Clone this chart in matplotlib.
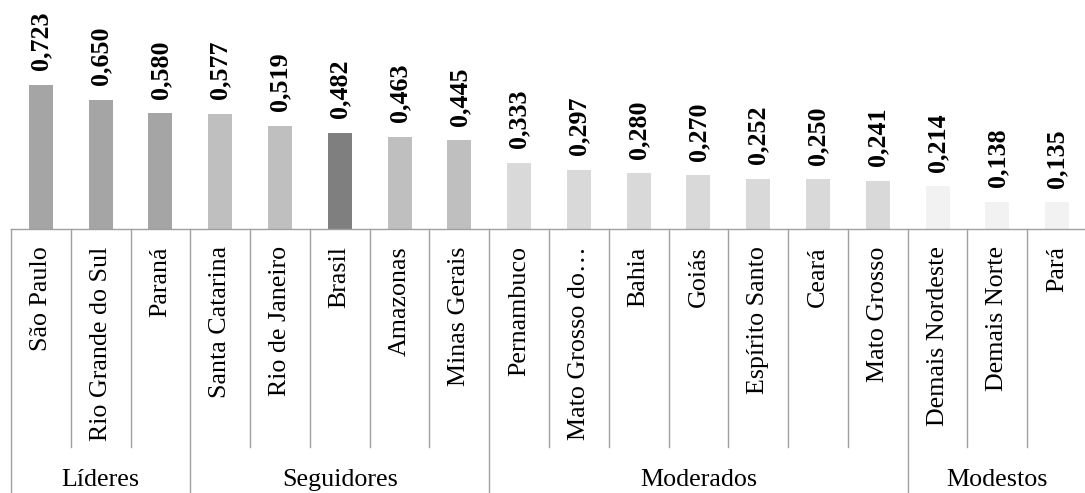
import matplotlib.pyplot as plt
import matplotlib.transforms as mtransforms

# dados
estados = ['São Paulo', 'Rio Grande do Sul', 'Paraná', 'Santa Catarina',
           'Rio de Janeiro', 'Brasil', 'Amazonas', 'Minas Gerais',
           'Pernambuco', 'Mato Grosso do…', 'Bahia', 'Goiás',
           'Espírito Santo', 'Ceará', 'Mato Grosso', 'Demais Nordeste',
           'Demais Norte', 'Pará']
valores = [0.723, 0.650, 0.580, 0.577, 0.519, 0.482, 0.463, 0.445,
           0.333, 0.297, 0.280, 0.270, 0.252, 0.250, 0.241, 0.214,
           0.138, 0.135]
grupos = ['Líderes', 'Seguidores', 'Moderados', 'Modestos']
tamanhos = [3, 5, 7, 3]

cores_grupo = {'Líderes': '#A5A5A5', 'Seguidores': '#BFBFBF',
               'Moderados': '#D9D9D9', 'Modestos': '#F2F2F2'}
cor_brasil = '#7F7F7F'
cor_linha = '#A0A0A0'

plt.rcParams['font.family'] = ['Liberation Serif', 'DejaVu Serif']
fs = 18.7

cores = []
for g, n in zip(grupos, tamanhos):
    cores += [cores_grupo[g]] * n
cores[estados.index('Brasil')] = cor_brasil

W, H = 1085, 493
fig = plt.figure(figsize=(W / 100, H / 100), dpi=100)
y0 = 229  # linha do eixo (px a partir do topo)
ax = fig.add_axes([11 / W, (H - y0) / H, 1076 / W, y0 / H])

x = list(range(len(estados)))
ax.bar(x, valores, width=0.4, color=cores, zorder=2)
ax.set_xlim(-0.5, len(estados) - 0.5)
ax.set_ylim(0, y0 / 199.2)

for xi, v in zip(x, valores):
    ax.annotate(f'{v:.3f}'.replace('.', ','), (xi, v), xytext=(0, 10.5),
                textcoords='offset points', ha='center', va='bottom',
                rotation=90, fontsize=fs, fontweight='bold')

ax.set_yticks([])
ax.set_xticks(x)
ax.set_xticklabels(estados, rotation=90, fontsize=fs)
ax.tick_params(axis='x', length=0, pad=12.5)
for s in ['top', 'left', 'right']:
    ax.spines[s].set_visible(False)
ax.spines['bottom'].set_color(cor_linha)
ax.spines['bottom'].set_linewidth(1)

# linhas separadoras e rótulos dos grupos
trans = mtransforms.blended_transform_factory(ax.transData, ax.transAxes)
y_in = (y0 - 447) / y0
y_out = (y0 - 500) / y0
limites = [0]
for n in tamanhos:
    limites.append(limites[-1] + n)
for i in range(len(estados) + 1):
    yb = y_out if i in limites else y_in
    ax.plot([i - 0.5, i - 0.5], [0, yb], color=cor_linha, lw=1,
            transform=trans, clip_on=False)
for g, a, b in zip(grupos, limites[:-1], limites[1:]):
    ax.text((a + b - 1) / 2, (y0 - 480) / y0, g, ha='center', va='center',
            fontsize=fs, transform=trans)

fig.savefig('out.png', dpi=100)
